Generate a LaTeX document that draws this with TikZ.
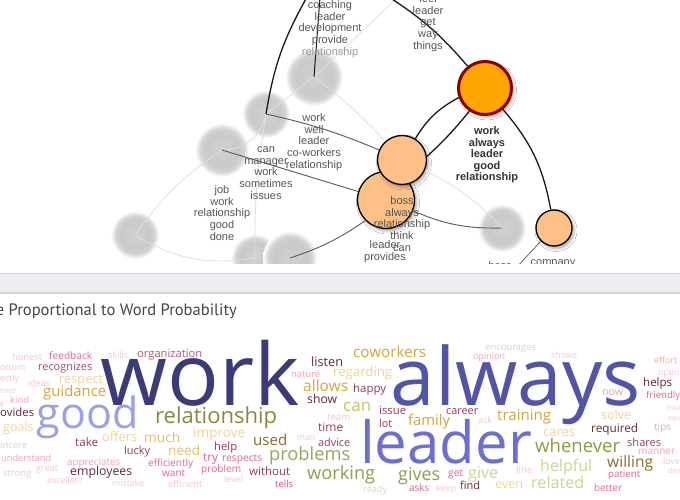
\documentclass[tikz,border=0pt]{standalone}
\usepackage{fontspec}
\usepackage{graphicx}
\setmainfont{Liberation Sans}
\newfontfamily\cloudfont{Open Sans}
\newfontfamily\titlefont{PT Sans}
\usetikzlibrary{shadows.blur}
\definecolor{cnavy}{HTML}{3A3B77}
\definecolor{cindigo}{HTML}{5254A8}
\definecolor{cperi}{HTML}{6B6ED3}
\definecolor{clav}{HTML}{9EA0E4}
\definecolor{colive}{HTML}{878A3E}
\definecolor{ckhaki}{HTML}{9BA35A}
\definecolor{cgreen}{HTML}{8BA04C}
\definecolor{colivetwo}{HTML}{8E9A40}
\definecolor{cgold}{HTML}{D2A63C}
\definecolor{ctan}{HTML}{E6BE6A}
\definecolor{cltan}{HTML}{F0D39C}
\definecolor{clgreen}{HTML}{C6D88F}
\definecolor{cygreen}{HTML}{B9CC63}
\definecolor{cbrown}{HTML}{8A6C2C}
\definecolor{cmaroon}{HTML}{65283A}
\definecolor{cwine}{HTML}{923A58}
\definecolor{crose}{HTML}{D9678A}
\definecolor{cpink}{HTML}{EFA2B8}
\definecolor{cpale}{HTML}{F5C5D2}
\definecolor{corg}{HTML}{B05A7A}
\definecolor{cmag}{HTML}{A84470}
\definecolor{cmauve}{HTML}{A24462}
\definecolor{ctells}{HTML}{C4508A}
\definecolor{csalmon}{HTML}{F2AEA2}
\definecolor{nodeorange}{HTML}{FDC086}
\definecolor{huborange}{HTML}{FFA500}
\definecolor{hubred}{HTML}{8B0000}
\definecolor{labgray}{HTML}{555555}
\definecolor{bandfill}{HTML}{ECEEF2}
\definecolor{bandline}{HTML}{D2D6DC}
\definecolor{titlegray}{HTML}{454545}
\pgfdeclareradialshading{fadedisc}{\pgfpointorigin}{color(0bp)=(gray!36!white); color(15bp)=(gray!42!white); color(20bp)=(gray!35!white); color(25bp)=(white); color(50bp)=(white)}
\newcommand\cw[5]{\node[cloud] (w-#5) at (#1,#2) {\resizebox{#3pt}{!}{\textcolor{#4}{#5}}};}
\begin{document}
\begin{tikzpicture}[x=1pt,y=-1pt,
  ghost/.style={circle, inner sep=0pt, minimum size=#1, shading=fadedisc},
  onode/.style={circle, draw=black, line width=1.3pt, fill=nodeorange, inner sep=0pt, minimum size=#1,
     blur shadow={shadow xshift=2pt, shadow yshift=-2.5pt, shadow blur radius=3pt, shadow opacity=35}},
  hubnode/.style={circle, draw=hubred, line width=3pt, fill=huborange, inner sep=0pt, minimum size=#1,
     blur shadow={shadow xshift=2pt, shadow yshift=-2.5pt, shadow blur radius=3pt, shadow opacity=35}},
  darkedge/.style={draw=black!90, line width=1.3pt},
  midedge/.style={draw=black!65, line width=0.9pt},
  faintedge/.style={draw=black!12, line width=0.8pt},
  lab/.style={font=\fontsize{11}{11.7}\selectfont, text=labgray, align=center, inner sep=0pt},
  boldlab/.style={font=\bfseries\fontsize{11}{11.5}\selectfont, text=black!80, align=center, inner sep=0pt},
  cloud/.style={anchor=base west, inner sep=0pt, font=\cloudfont\fontsize{10}{12}\selectfont}
]
\useasboundingbox (0,0) rectangle (680,500);
\fill[white] (0,0) rectangle (680,500);

% ---------- top panel: graph ----------
\begin{scope}
\clip (0,0) rectangle (680,263);
\node[ghost=58pt] (c1) at (314,77) {};
\node[ghost=48pt] (c2) at (266,114) {};
\node[ghost=54pt] (c3) at (222,150) {};
\node[ghost=48pt] (c4) at (135,235) {};
\node[ghost=48pt] (c5) at (255,258) {};
\node[ghost=54pt] (c6) at (290,258) {};
\node[ghost=48pt] (c7) at (502,228) {};

\coordinate (t1) at (389,-3);
\coordinate (t2) at (307,-3);
\coordinate (t3) at (320,-3);
\coordinate (t4) at (398,-3);
\coordinate (b1) at (516,268);

% faint edges
\draw[faintedge] (c1.center) -- (t4);
\draw[faintedge] (c1.center) -- (c2.center);
\draw[faintedge] (c2.center) to[bend left=40] (c3.center);
\draw[faintedge] (c2.center) to[bend right=5] (c5.center);
\draw[faintedge] (c3.center) to[bend right=10] (c4.center);
\draw[faintedge] (c4.center) to[bend right=20] (c5.center);

% orange nodes
\node[onode=57pt] (o3) at (386,200) {};
\node[onode=49pt] (o2) at (402,160) {};
\node[hubnode=53pt] (o1) at (485,88) {};
\node[onode=36pt] (o4) at (554,228) {};

\draw[faintedge] (c1.center) to[bend left=5] (o2);
\draw[faintedge] (o2) to[bend left=10] (c7.center);

% dark edges (they end on node borders)
\draw[darkedge] (o1) to[bend right=8] (t1);
\draw[darkedge] (t2) to[bend right=10] (c2.center);
\draw[darkedge, line width=1pt] (c1.center) -- (t3);
\draw[midedge] (c2.center) to[bend left=5] (o2);
\draw[midedge] (c3.center) -- (o3);
\draw[darkedge] (o1.200) to[bend right=15] (o2.58);
\draw[darkedge] (o1.236) to[bend left=4] (o2.8);
\draw[darkedge] (o1.310) to[bend left=15] (o4.100);
\draw[midedge] (o3.-22) to[bend right=12] (c7.center);
\draw[midedge] (o3.225) to[bend left=8] (c6.center);
\draw[midedge, line width=0.7pt] (o4.225) -- (b1);

% labels
\node[lab] (l1) at (330,29) {coaching\\leader\\development\\provide\\\textcolor{black!40}{relationship}};
\node[lab] (l2) at (428,23) {feel\\leader\\get\\way\\things};
\node[lab] (l3) at (314,142) {work\\well\\leader\\co-workers\\relationship};
\node[lab] (l4) at (266,173) {can\\manager\\work\\sometimes\\issues};
\node[lab] (l5) at (222,213) {job\\work\\relationship\\good\\done};
\node[boldlab] (l6) at (487,155) {work\\always\\leader\\good\\relationship};
\node[lab] (l7) at (402,224) {boss\\always\\relationship\\think\\can};
\node[lab] (l8) at (385,252) {leader\\provides};
\node[lab] (l9) at (500,266) {boss};
\node[lab] (l10) at (553,264) {company};
\end{scope}

% ---------- separator band ----------
\fill[bandfill] (0,273) rectangle (680,292);
\draw[bandline, line width=0.8pt] (0,273.4) -- (680,273.4);
\fill[bandline] (0,292) rectangle (680,294);

% ---------- title ----------
\node[anchor=base east, inner sep=0pt, font=\titlefont\fontsize{16}{18}\selectfont] (title) at (237,315)
  {\resizebox{241pt}{!}{\textcolor{titlegray}{e Proportional to Word Probability}}};

% ---------- word cloud ----------
\cw{12}{360}{30}{cpale}{honest}
\cw{49}{359.5}{43}{crose}{feedback}
\cw{108}{358}{20}{cpale}{skills}
\cw{137}{357}{65}{corg}{organization}
\cw{0}{370}{25}{cpale}{ottom}
\cw{38}{370.5}{54}{cmag}{recognizes}
\cw{0}{381}{19}{cpale}{ectly}
\cw{28}{386}{22}{cpale}{ideas}
\cw{59}{383}{44}{cltan}{respect}
\cw{43}{396}{63}{cgold}{guidance}
\cw{0}{393}{15}{cpale}{hind}
\cw{10}{403}{19}{cpink}{kind}
\cw{0}{406}{3.5}{cpink}{s}
\cw{0}{416}{34}{cmaroon}{ovides}
\cw{3}{431}{30.5}{cltan}{goals}
\cw{75}{446.5}{23}{cwine}{take}
\cw{102}{441.5}{35}{cltan}{offers}
\cw{144}{442}{36}{ctan}{much}
\cw{0}{448}{27}{cpale}{incere}
\cw{124}{454}{26}{cwine}{lucky}
\cw{1}{461}{50}{cpink}{understand}
\cw{67}{465}{53}{cpink}{appreciates}
\cw{148}{466}{45}{crose}{efficiently}
\cw{36}{471}{22}{cpale}{great}
\cw{3}{476}{28}{cpale}{strong}
\cw{70}{475}{62}{cmaroon}{employees}
\cw{47}{483}{36}{cpale}{excellent}
\cw{112}{486}{32}{cpale}{mistake}
\cw{162}{476}{23}{crose}{want}
\cw{168}{487}{34}{cpale}{efficient}
\cw{311}{366}{32}{cmaroon}{listen}
\cw{291}{377}{29}{cpink}{nature}
\cw{333}{376}{59}{cltan}{regarding}
\cw{303}{391}{45}{cgold}{allows}
\cw{307}{403.5}{30}{cmaroon}{show}
\cw{327}{420}{23}{cpale}{team}
\cw{318}{431}{25}{cwine}{time}
\cw{193}{437.5}{52}{cltan}{improve}
\cw{297}{440}{18}{cpale}{man}
\cw{318}{446}{32}{cwine}{advice}
\cw{253}{445}{34}{cbrown}{used}
\cw{214}{450}{23}{cwine}{help}
\cw{168}{455}{32}{ctan}{need}
\cw{269}{460}{81}{ckhaki}{problems}
\cw{203}{461}{15}{crose}{try}
\cw{222}{461}{40}{crose}{respects}
\cw{201}{472}{40}{crose}{problem}
\cw{249}{475}{41}{cwine}{without}
\cw{307}{479}{68}{cgreen}{working}
\cw{224}{482}{19}{cpale}{level}
\cw{275}{487}{18}{ctells}{tells}
\cw{353}{357.5}{73}{cgold}{coworkers}
\cw{485}{350}{51}{cpale}{encourages}
\cw{473}{359}{32}{cpink}{opinion}
\cw{353}{392}{33}{cwine}{happy}
\cw{343}{411}{28}{cygreen}{can}
\cw{379}{414}{27}{cwine}{issue}
\cw{446}{414}{32}{cwine}{career}
\cw{497}{420}{54}{cgold}{training}
\cw{408}{425}{42}{cgold}{family}
\cw{478}{423}{14}{cpale}{ask}
\cw{379}{427}{13}{cwine}{lot}
\cw{398}{480.5}{42}{cgreen}{gives}
\cw{468}{478}{30}{clgreen}{give}
\cw{448}{476}{15}{crose}{get}
\cw{460}{489}{20}{cmaroon}{find}
\cw{409}{491}{20}{crose}{asks}
\cw{436}{491}{20}{cpale}{keep}
\cw{363}{492}{24}{cpale}{ready}
\cw{495}{488}{28}{cltan}{even}
\cw{531}{488.5}{53}{clgreen}{related}
\cw{516}{473}{16}{cpale}{line}
\cw{551}{358}{26}{cpale}{shows}
\cw{654}{363}{23}{csalmon}{effort}
\cw{658}{375}{21}{cpale}{open}
\cw{643}{386}{29}{cmaroon}{helps}
\cw{602}{395}{21}{cpink}{now}
\cw{646}{398}{34}{crose}{friendly}
\cw{601}{419}{30}{cltan}{solve}
\cw{667}{410}{13}{cpale}{trea}
\cw{668}{420}{12}{cpale}{equ}
\cw{543}{436}{32}{cltan}{cares}
\cw{591}{432}{47}{cmaroon}{required}
\cw{654}{430}{17}{cpink}{tips}
\cw{535}{452}{85}{colivetwo}{whenever}
\cw{627}{446}{34}{cmauve}{shares}
\cw{638}{454}{37}{cpink}{manner}
\cw{540}{471}{52}{clgreen}{helpful}
\cw{607}{467}{46}{cbrown}{willing}
\cw{663}{464}{17}{cpale}{love}
\cw{668}{473}{12}{cpale}{dev}
\cw{608}{477}{32}{crose}{patient}
\cw{594}{491}{28}{crose}{better}
% big words last
\cw{155}{423}{122}{colive}{relationship}
\cw{36.5}{428}{102}{clav}{good}
\cw{360}{463}{171.5}{cperi}{leader}
\cw{100}{405}{199}{cnavy}{work}
\cw{390.5}{405}{250}{cindigo}{always}
\end{tikzpicture}
\end{document}
